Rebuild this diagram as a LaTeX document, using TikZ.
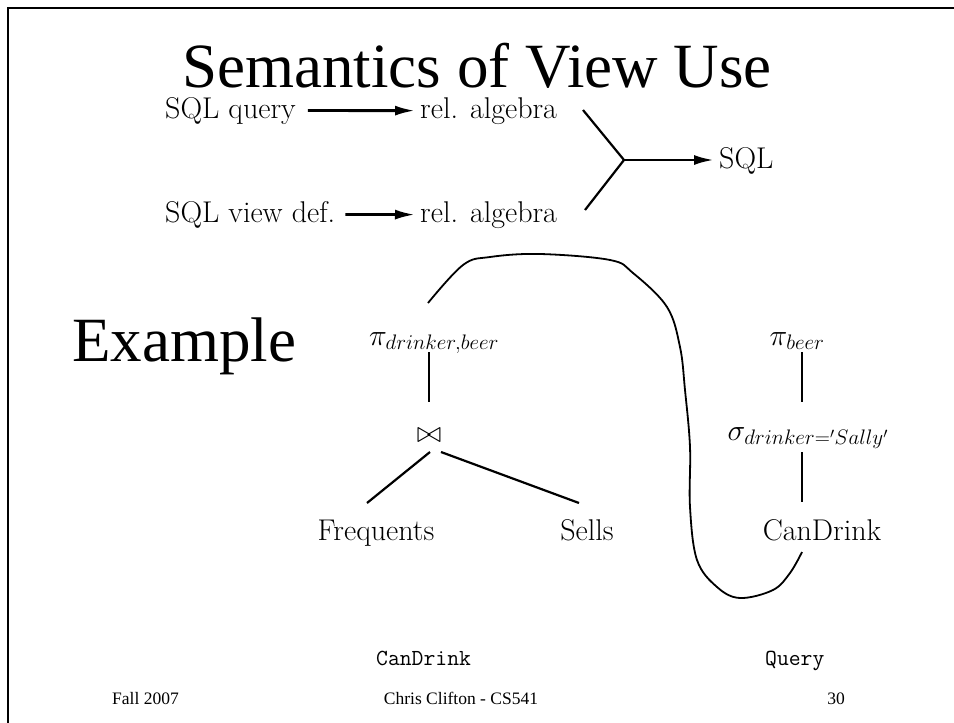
\documentclass[tikz,border=0pt]{standalone}
\usepackage{fix-cm}
\usepackage{fontspec}
\newfontfamily\timesf{Liberation Serif}
\usetikzlibrary{arrows.meta}
\tikzset{
  lbl/.style={inner sep=0pt, font=\fontsize{30}{34}\selectfont},
  mlbl/.style={inner sep=0pt, font=\fontsize{30}{34}\selectfont},
  bigt/.style={inner sep=0pt, font=\timesf\fontsize{63}{70}\selectfont},
  foot/.style={inner sep=0pt, font=\timesf\fontsize{17.5}{20}\selectfont},
  mono/.style={inner sep=0pt, font=\ttfamily\fontsize{23}{27}\selectfont},
  edge/.style={line width=2.2pt},
  flow/.style={line width=2.8pt, -{Latex[length=20pt,width=10pt]}},
}
\begin{document}
\begin{tikzpicture}[x=1pt,y=-1pt]
\useasboundingbox (0,0) rectangle (954,723);
% slide frame (top and left edges)
\draw[line width=2.6pt] (954,8) -- (8,8) -- (8,723);

% title
\node[bigt, anchor=base] (title) at (477,87) {Semantics of View Use};

% translation scheme
\node[lbl, anchor=base west] (sqlq) at (165,118) {SQL query};
\node[lbl, anchor=base west] (ra1) at (420,118) {rel. algebra};
\node[lbl, anchor=base west] (sqlv) at (165,222) {SQL view def.};
\node[lbl, anchor=base west] (ra2) at (420,222) {rel. algebra};
\node[lbl, anchor=base west] (sql) at (719,168) {SQL};
\coordinate (fork) at (624,160);
\coordinate (ya) at (583,110);
\coordinate (yb) at (585,210);
\draw[flow, shorten <=12pt, shorten >=5pt] (sqlq.east) -- (ra1.west);
\draw[flow, shorten <=10pt, shorten >=5pt] (sqlv.east) -- (ra2.west);
\draw[edge] (ya) -- (fork) -- (yb);
\draw[flow, shorten >=5pt] (fork) -- (sql.west |- fork);

% example
\node[bigt, anchor=base west] (ex) at (72,361) {Example};

% CanDrink view tree
\node[mlbl, anchor=base] (pidb) at (434,345) {$\pi_{drinker,beer}$};
\node[mlbl] (join) at (429,436) {$\bowtie$};
\node[lbl, anchor=base] (freq) at (376,540) {Frequents};
\node[lbl, anchor=base] (sells) at (587,540) {Sells};
\draw[edge] (429,352) -- (429,402);
\draw[edge] (430,452) -- (367,503);
\draw[edge] (441,452) -- (579,503);

% query tree
\node[mlbl, anchor=base] (pib) at (797,345) {$\pi_{beer}$};
\node[mlbl, anchor=base] (sig) at (808,440) {$\sigma_{drinker='Sally'}$};
\node[lbl, anchor=base] (cand) at (822,540) {CanDrink};
\draw[edge] (802,352) -- (802,402);
\draw[edge] (802,452) -- (802,502);

% substitution curve
\coordinate (cs) at (428,303);
\coordinate (ce) at (802,552);
\draw[line width=1.8pt] plot[smooth, tension=0.6] coordinates {(cs) (463,265) (490,257) (540,254) (610,260) (633,273) (667,307) (680,347) (685,390) (690,447) (690,507) (697,560) (717,587) (740,598) (773,590) (790,573) (ce)};

% captions
\node[mono, anchor=base west] (capv) at (376,665) {CanDrink};
\node[mono, anchor=base west] (capq) at (765,665) {Query};

% footer
\node[foot, anchor=base west] (f1) at (112,704) {Fall 2007};
\node[foot, anchor=base] (f2) at (461,704) {Chris Clifton - CS541};
\node[foot, anchor=base east] (f3) at (845,704) {30};
\end{tikzpicture}
\end{document}
